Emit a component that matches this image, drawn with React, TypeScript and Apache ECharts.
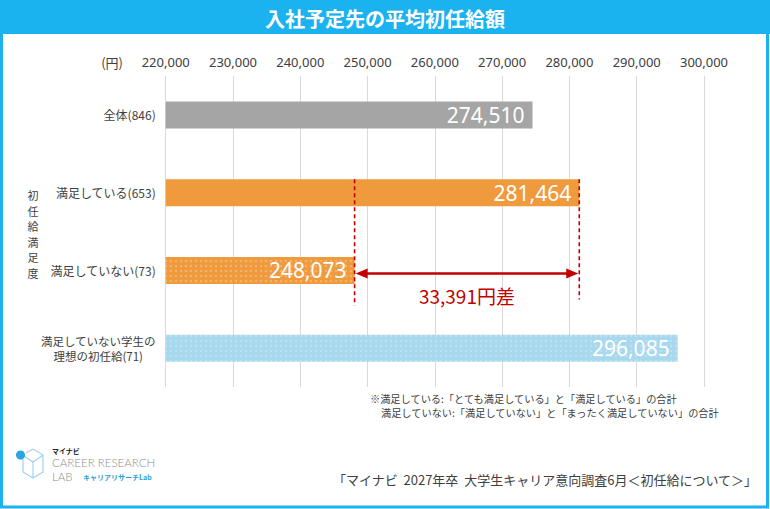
import React, { useEffect, useRef } from "react";
import * as echarts from "echarts";

// ---------- data ----------
const categories = [
  "全体(846)",
  "満足している(653)",
  "満足していない(73)",
  "満足していない学生の\n理想の初任給(71)",
];
const salaries = [274510, 281464, 248073, 296085];
const axisMin = 220000;
const axisMax = 300000;
const axisStep = 10000;
// comparison: low bar index, high bar index
const compareLow = 2;
const compareHigh = 1;

const titleText = "入社予定先の平均初任給額";
const unitText = "(円)";
const yAxisName = "初任給満足度";
const noteLines = [
  "※満足している:「とても満足している」と「満足している」の合計",
  "満足していない:「満足していない」と「まったく満足していない」の合計",
];
const sourceText = "「マイナビ  2027年卒  大学生キャリア意向調査6月＜初任給について＞」";

// ---------- styles ----------
const JP = '"Noto Sans CJK JP", "Noto Sans", sans-serif';
const NUM = '"Noto Sans", "Noto Sans CJK JP", sans-serif';
const FRAME = "#1ab3ef";
const GRAY = "#a5a5a5";
const ORANGE = "#f09a3e";
const BLUE = "#a7d8ee";
const RED = "#c00000";
const TEXT = "#404040";
const BAR_W = 27;

const DOTS = {
  symbol: "circle",
  symbolSize: 1,
  color: "rgba(255,255,255,0.3)",
  dashArrayX: [1.3, 2.9],
  dashArrayY: [1.3, 2.9],
  rotation: 0,
};

export default function App() {
  const ref = useRef<HTMLDivElement>(null);

  useEffect(() => {
    document.body.style.margin = "0";
    const chart = echarts.init(ref.current!, null, { renderer: "svg" });

    const barStyles = [
      { color: GRAY },
      { color: ORANGE },
      { color: ORANGE, decal: DOTS },
      { color: BLUE, decal: DOTS },
    ];
    const barData = salaries.map((v, i) => ({ value: v, itemStyle: barStyles[i] }));

    const nameChars = yAxisName.split("").map((ch, i) => ({
      type: "text",
      x: 33,
      y: 195 + i * 15.6,
      style: {
        text: ch,
        fill: TEXT,
        fontSize: 11,
        fontFamily: JP,
        align: "center",
        verticalAlign: "middle",
      },
    }));

    const option: any = {
      animation: false,
      backgroundColor: "transparent",
      grid: { left: 165.7, right: 66, top: 76, height: 311, containLabel: false },
      xAxis: {
        type: "value",
        position: "top",
        min: axisMin,
        max: axisMax,
        interval: axisStep,
        axisLine: { show: false },
        axisTick: { show: false },
        splitLine: { show: true, lineStyle: { color: "#d9d9d9", width: 1 } },
        axisLabel: {
          margin: 8,
          color: TEXT,
          fontSize: 13,
          fontFamily: NUM,
          formatter: (v: number) => v.toLocaleString("en-US"),
        },
      },
      yAxis: {
        type: "category",
        inverse: true,
        data: categories,
        axisLine: { show: false },
        axisTick: { show: false },
        axisLabel: {
          margin: 10,
          color: TEXT,
          fontSize: 12,
          fontFamily: JP,
          lineHeight: 15,
          formatter: (v: string) =>
            v.includes("\n") ? v.split("\n").map((s) => `{c|${s}}`).join("\n") : v,
          rich: {
            c: { align: "center", fontSize: 11.5, lineHeight: 15, color: TEXT, fontFamily: JP },
          },
        },
      },
      series: [
        {
          type: "bar",
          barWidth: BAR_W,
          data: barData,
          label: {
            show: true,
            position: "insideRight",
            distance: 8,
            color: "#fff",
            fontSize: 21,
            fontFamily: NUM,
            formatter: (p: any) => Number(p.value).toLocaleString("en-US"),
          },
        },
        {
          type: "custom",
          z: 5,
          silent: true,
          encode: { x: [0, 1], y: [2, 3] },
          data: [[salaries[compareLow], salaries[compareHigh], compareHigh, compareLow]],
          renderItem: (params: any, api: any) => {
            const lo = api.value(0);
            const hi = api.value(1);
            const topCat = api.value(2);
            const botCat = api.value(3);
            const pTop = api.coord([lo, topCat]);
            const pBot = api.coord([lo, botCat]);
            const pHi = api.coord([hi, topCat]);
            const xl = pBot[0];
            const xr = pHi[0];
            const yTop = pTop[1] - BAR_W / 2;
            const yA = pBot[1] + 3;
            const dash = { stroke: RED, lineWidth: 1.6, lineDash: [4, 3] };
            return {
              type: "group",
              children: [
                { type: "line", shape: { x1: xl, y1: yTop, x2: xl, y2: pBot[1] + 35 }, style: dash },
                { type: "line", shape: { x1: xr, y1: yTop, x2: xr, y2: pBot[1] + 29 }, style: dash },
                {
                  type: "line",
                  shape: { x1: xl + 8, y1: yA, x2: xr - 8, y2: yA },
                  style: { stroke: RED, lineWidth: 2.5 },
                },
                {
                  type: "polygon",
                  shape: { points: [[xl + 1, yA], [xl + 13, yA - 5], [xl + 13, yA + 5]] },
                  style: { fill: RED },
                },
                {
                  type: "polygon",
                  shape: { points: [[xr - 1, yA], [xr - 13, yA - 5], [xr - 13, yA + 5]] },
                  style: { fill: RED },
                },
                {
                  type: "text",
                  x: (xl + xr) / 2,
                  y: pBot[1] + 25,
                  style: {
                    text: `${(hi - lo).toLocaleString("en-US")}円差`,
                    fill: RED,
                    fontSize: 19,
                    fontFamily: JP,
                    align: "center",
                    verticalAlign: "middle",
                  },
                },
              ],
            };
          },
        },
      ],
      graphic: [
        {
          type: "rect",
          z: -10,
          shape: { x: 1.5, y: 1.5, width: 766, height: 505.5 },
          style: { fill: "#fff", stroke: FRAME, lineWidth: 3 },
        },
        {
          type: "rect",
          z: -9,
          shape: { x: 0, y: 0, width: 770, height: 34 },
          style: { fill: FRAME },
        },
        {
          type: "text",
          x: 385,
          y: 18,
          style: {
            text: titleText,
            fill: "#fff",
            fontSize: 20,
            fontWeight: "bold",
            fontFamily: JP,
            align: "center",
            verticalAlign: "middle",
          },
        },
        {
          type: "text",
          x: 123,
          y: 62,
          style: {
            text: unitText,
            fill: TEXT,
            fontSize: 13,
            fontFamily: JP,
            align: "right",
            verticalAlign: "middle",
          },
        },
        ...nameChars,
        {
          type: "text",
          x: 370,
          y: 398,
          style: { text: noteLines[0], fill: TEXT, fontSize: 10.2, fontFamily: JP, align: "left", verticalAlign: "middle" },
        },
        {
          type: "text",
          x: 381,
          y: 412,
          style: { text: noteLines[1], fill: TEXT, fontSize: 10.2, fontFamily: JP, align: "left", verticalAlign: "middle" },
        },
        {
          type: "text",
          x: 757,
          y: 479,
          style: { text: sourceText, fill: TEXT, fontSize: 13, fontFamily: JP, align: "right", verticalAlign: "middle" },
        },
        // logo
        {
          type: "group",
          children: [
            {
              type: "polyline",
              shape: { points: [[33, 449], [43, 455], [43, 472], [33, 478], [23, 472], [23, 459]] },
              style: { stroke: "#9fd3ee", lineWidth: 1.2, fill: "none" },
            },
            {
              type: "polyline",
              shape: { points: [[24, 456], [33, 462], [43, 455]] },
              style: { stroke: "#9fd3ee", lineWidth: 1.2, fill: "none" },
            },
            {
              type: "polyline",
              shape: { points: [[33, 462], [33, 478]] },
              style: { stroke: "#9fd3ee", lineWidth: 1.2, fill: "none" },
            },
            {
              type: "polyline",
              shape: { points: [[33, 449], [26, 453]] },
              style: { stroke: "#c7c7c7", lineWidth: 1.2, fill: "none" },
            },
            { type: "circle", shape: { cx: 20.5, cy: 455, r: 4.5 }, style: { fill: "#27a6e1" } },
            {
              type: "text",
              x: 52,
              y: 451,
              style: { text: "マイナビ", fill: "#222", fontSize: 7, fontWeight: "bold", fontFamily: JP, verticalAlign: "middle" },
            },
            {
              type: "text",
              x: 52,
              y: 462.5,
              style: { text: "CAREER RESEARCH", fill: "#8c8c8c", fontSize: 11.5, fontWeight: 300, fontFamily: "Lato, sans-serif", verticalAlign: "middle" },
            },
            {
              type: "text",
              x: 52,
              y: 476.5,
              style: { text: "LAB", fill: "#8c8c8c", fontSize: 11.5, fontWeight: 300, fontFamily: "Lato, sans-serif", verticalAlign: "middle" },
            },
            {
              type: "text",
              x: 83,
              y: 476.5,
              style: { text: "キャリアリサーチLab", fill: "#2b9fd8", fontSize: 7, fontWeight: "bold", fontFamily: JP, verticalAlign: "middle" },
            },
          ],
        },
      ],
    };

    chart.setOption(option);
    return () => chart.dispose();
  }, []);

  return <div ref={ref} style={{ width: 770, height: 509 }} />;
}
